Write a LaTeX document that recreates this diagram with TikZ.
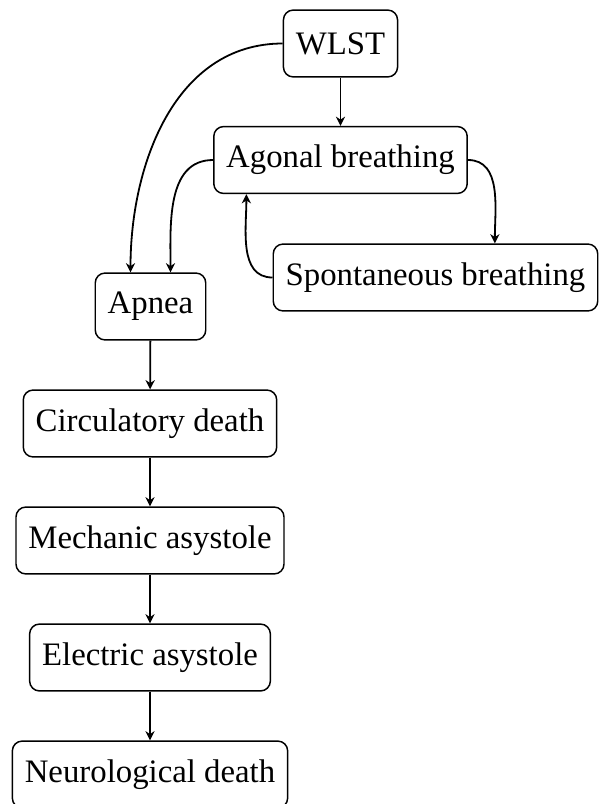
\documentclass[tikz,border=0pt]{standalone}
\usepackage{fontspec}
\setmainfont{Liberation Serif}
\usetikzlibrary{arrows.meta}
\begin{document}
\begin{tikzpicture}[x=0.305pt,y=-0.305pt,
  box/.style={draw,line width=0.45pt,rounded corners=3pt,minimum height=20.4pt,inner xsep=3.8pt,inner ysep=3pt,font=\fontsize{10pt}{12pt}\selectfont},
  conn/.style={-{Stealth[length=2.8pt,width=2.8pt,inset=0.9pt]},line width=0.55pt}]
\useasboundingbox (0,0) rectangle (600,804);
\node[box] (wlst) at (340.5,43.5) {WLST};
\node[box] (agonal) at (340.5,160) {Agonal breathing};
\node[box] (spont) at (435.5,277.5) {Spontaneous breathing};
\node[box] (apnea) at (150.5,306.5) {Apnea};
\node[box] (circ) at (150,423.5) {Circulatory death};
\node[box] (mech) at (150,540.5) {Mechanic asystole};
\node[box] (elec) at (150,657.5) {Electric asystole};
\node[box] (neuro) at (150,774.5) {Neurological death};
\draw[conn] (wlst.west) to[out=180,in=90] ([xshift=-6.1pt]apnea.north);
\draw[conn] (wlst) -- (agonal);
\draw[conn] (agonal.west) to[out=180,in=90] ([xshift=6.1pt]apnea.north);
\draw[conn] (agonal.east) to[out=0,in=90] ([xshift=18.1pt]spont.north);
\draw[conn] (spont.west) to[out=180,in=-90] ([xshift=-28.7pt]agonal.south);
\draw[conn] (apnea) -- (circ);
\draw[conn] (circ) -- (mech);
\draw[conn] (mech) -- (elec);
\draw[conn] (elec) -- (neuro);
\end{tikzpicture}
\end{document}
